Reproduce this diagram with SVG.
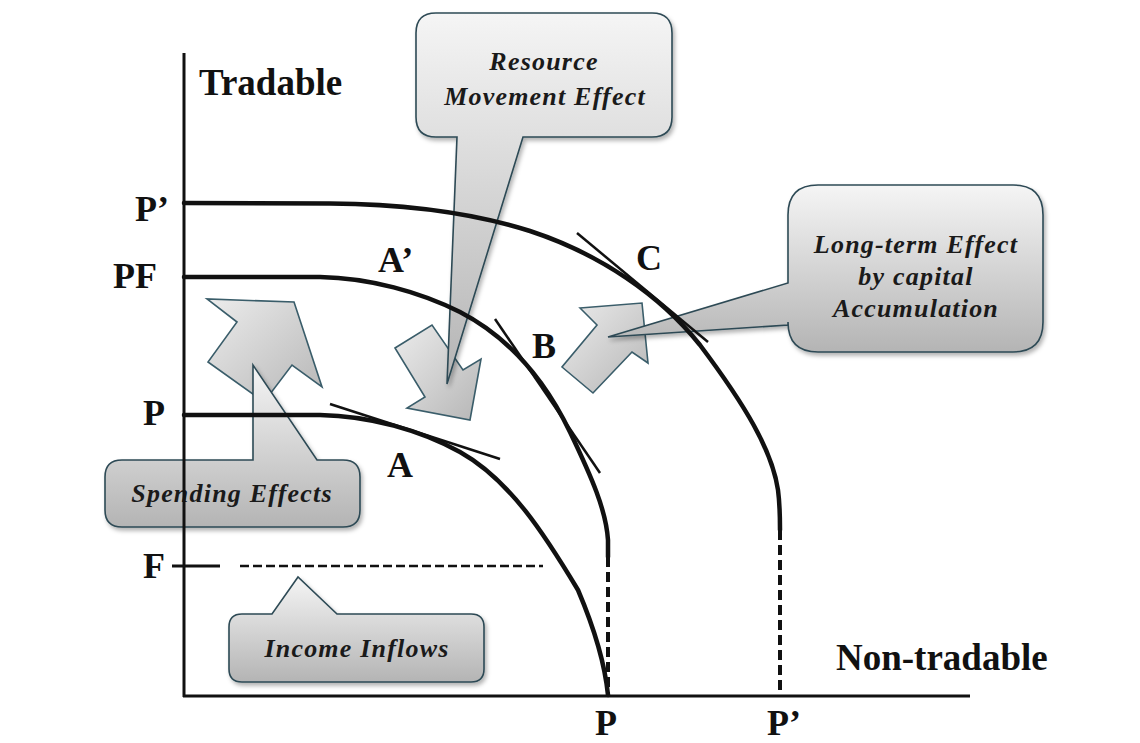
<svg xmlns="http://www.w3.org/2000/svg" width="1140" height="743" viewBox="0 0 1140 743">
  <defs>
    <linearGradient id="gCall" x1="0" y1="0" x2="0" y2="1">
      <stop offset="0" stop-color="#f5f5f5"/>
      <stop offset="1" stop-color="#b4b4b4"/>
    </linearGradient>
    <linearGradient id="gArrow" x1="0" y1="0" x2="1" y2="1">
      <stop offset="0" stop-color="#ececec"/>
      <stop offset="1" stop-color="#b6b6b6"/>
    </linearGradient>
    <filter id="shadow" x="-10%" y="-10%" width="130%" height="130%">
      <feDropShadow dx="2" dy="3" stdDeviation="2" flood-color="#000" flood-opacity="0.3"/>
    </filter>
    <style>
      .call { fill: url(#gCall); stroke: #2d4a55; stroke-width: 1.6; filter: url(#shadow); }
      .arrow { fill: url(#gArrow); stroke: #3a5d6a; stroke-width: 1.6; stroke-linejoin: miter; }
      .ctext { font-family: "Liberation Serif", "Times New Roman", serif; font-style: italic; font-weight: bold; font-size: 26px; fill: #1a1a1a; text-anchor: middle; letter-spacing: 1.2px; }
      .lbl { font-family: "Liberation Serif", "Times New Roman", serif; font-weight: bold; font-size: 36px; fill: #111; }
      .title { font-family: "Liberation Serif", "Times New Roman", serif; font-weight: bold; font-size: 37px; fill: #111; }
      .axis { stroke: #111; stroke-width: 3; fill: none; }
      .curve { stroke: #111; stroke-width: 4.5; fill: none; stroke-linecap: round; }
      .tan { stroke: #111; stroke-width: 2.5; fill: none; }
      .dash { stroke: #111; stroke-width: 4; fill: none; stroke-dasharray: 10 5; }
      .fdash { stroke: #111; stroke-width: 2.5; fill: none; stroke-dasharray: 9 4; }
    </style>
  </defs>
  <rect width="1140" height="743" fill="#fff"/>

  <!-- block arrows -->
  <g id="arrow-spending">
    <polygon class="arrow" points="294,302 322,387 292,365 264,402 208,362 237,322 207,299"/>
  </g>
  <g id="arrow-resource">
    <polygon class="arrow" points="395,348 432,325 463,370 481,359 470,420 407,408 425,397"/>
  </g>
  <g id="arrow-longterm">
    <polygon class="arrow" points="580,308 642,303 648,363 632,352 593,393 562,367 597,325"/>
  </g>

  <!-- callouts -->
  <g id="callout-resource">
    <path class="call" d="M436,13 H652 Q672,13 672,33 V117 Q672,137 652,137 H523 L447,384 L457,137 H436 Q416,137 416,117 V33 Q416,13 436,13 Z"/>
    <text class="ctext" x="544" y="70">Resource</text>
    <text class="ctext" x="545" y="105">Movement Effect</text>
  </g>
  <g id="callout-longterm">
    <path class="call" d="M818,185 H1013 Q1043,185 1043,215 V322 Q1043,352 1013,352 H818 Q788,352 788,322 V325 L608,337 L788,283 V215 Q788,185 818,185 Z"/>
    <text class="ctext" x="916" y="253">Long-term Effect</text>
    <text class="ctext" x="916" y="285">by capital</text>
    <text class="ctext" x="916" y="317">Accumulation</text>
  </g>
  <g id="callout-spending">
    <path class="call" d="M122,460 H253 V365 L317,460 H343 Q360,460 360,477 V510 Q360,527 343,527 H122 Q105,527 105,510 V477 Q105,460 122,460 Z"/>
    <text class="ctext" x="232" y="502">Spending Effects</text>
  </g>
  <g id="callout-income">
    <path class="call" d="M242,614 H272 L298,577 L337,614 H471 Q484,614 484,627 V669 Q484,682 471,682 H242 Q229,682 229,669 V627 Q229,614 242,614 Z"/>
    <text class="ctext" x="357" y="657">Income Inflows</text>
  </g>

  <!-- axes, curves, tangents -->
  <g id="connectors">
    <line class="axis" x1="184" y1="53" x2="184" y2="697"/>
    <line class="axis" x1="183" y1="696" x2="970" y2="696"/>
    <line class="axis" x1="172" y1="566" x2="220" y2="566"/>
    <line class="fdash" x1="240" y1="566" x2="543" y2="566"/>
    <path class="curve" d="M184,203 L330,203.5 C400,204 470,212 530,231 C600,254 660,295 700,345 C745,405 772,450 778,490 C780,505 780,515 780,530"/>
    <path class="curve" d="M184,277 L320,277 C370,278 420,292 460,312 C510,338 545,380 570,432 C592,478 606,510 608,540 L608,557"/>
    <path class="curve" d="M184,415 L320,415 C370,416 420,430 460,452 C510,480 545,535 578,590 C595,630 605,665 608,695"/>
    <line class="dash" x1="608" y1="557" x2="608" y2="695"/>
    <line class="dash" x1="780" y1="530" x2="780" y2="695"/>
    <line class="tan" x1="330" y1="404" x2="500" y2="459"/>
    <line class="tan" x1="495" y1="319" x2="600" y2="473"/>
    <line class="tan" x1="577" y1="233" x2="708" y2="342"/>
  </g>

  <!-- labels -->
  <g id="labels">
    <text class="title" x="199" y="95">Tradable</text>
    <text class="title" x="836" y="670">Non-tradable</text>
    <text class="lbl" x="135" y="221">P’</text>
    <text class="lbl" x="113" y="288">PF</text>
    <text class="lbl" x="143" y="425">P</text>
    <text class="lbl" x="143" y="578">F</text>
    <text class="lbl" x="595" y="735">P</text>
    <text class="lbl" x="767" y="735">P’</text>
    <text class="lbl" x="378" y="272">A’</text>
    <text class="lbl" x="387" y="477">A</text>
    <text class="lbl" x="532" y="358">B</text>
    <text class="lbl" x="636" y="270">C</text>
  </g>
</svg>
